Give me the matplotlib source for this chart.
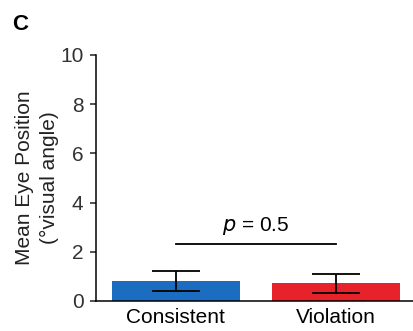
import numpy as np
import matplotlib
matplotlib.use("Agg")
import matplotlib.pyplot as plt

# ── Data ────────────────────────────────────────────────────────────────
conditions = ["Consistent", "Violation"]
mean_pos   = [0.80, 0.72]
err_pos    = [0.40, 0.38]
bar_colors = ["#1B6DC1", "#E8222A"]
p_label    = "$\\it{p}$ = 0.5"
bracket_y  = 2.3

plt.rcParams["font.family"] = ["Liberation Sans", "DejaVu Sans"]

fig = plt.figure(figsize=(4.14, 3.31), dpi=100)
ax = fig.add_axes([0.232, 0.091, 0.768, 0.743])

x = np.arange(len(conditions))
ax.bar(x, mean_pos, width=0.8, color=bar_colors, zorder=1)
ax.errorbar(x, mean_pos, yerr=err_pos, fmt="none", ecolor="black",
            elinewidth=1.3, capsize=17, capthick=1.3, zorder=2)

# significance bracket
ax.plot([x[0], x[1]], [bracket_y, bracket_y], color="black", lw=1.3)
ax.text((x[0] + x[1]) / 2, bracket_y + 0.3, p_label, ha="center",
        va="bottom", fontsize=15)

ax.set_xlim(-0.5, 1.49)
ax.set_ylim(0, 10)
ax.set_yticks([0, 2, 4, 6, 8, 10])
ax.set_xticks(x)
ax.set_xticklabels(conditions)
ax.tick_params(axis="x", length=0, pad=5, labelsize=15)
ax.tick_params(axis="y", length=4, width=1.1, pad=5, labelsize=15,
               colors="#222222", labelcolor="#333333")
for side in ("top", "right"):
    ax.spines[side].set_visible(False)
for side in ("left", "bottom"):
    ax.spines[side].set_linewidth(1.1)
ax.set_ylabel("Mean Eye Position\n(\u00b0visual angle)", fontsize=15,
              linespacing=1.4, labelpad=1, color="#222222")

fig.text(0.029, 0.927, "C", fontsize=16, fontweight="bold", ha="left",
         va="center")

fig.savefig("out.png", dpi=100)
